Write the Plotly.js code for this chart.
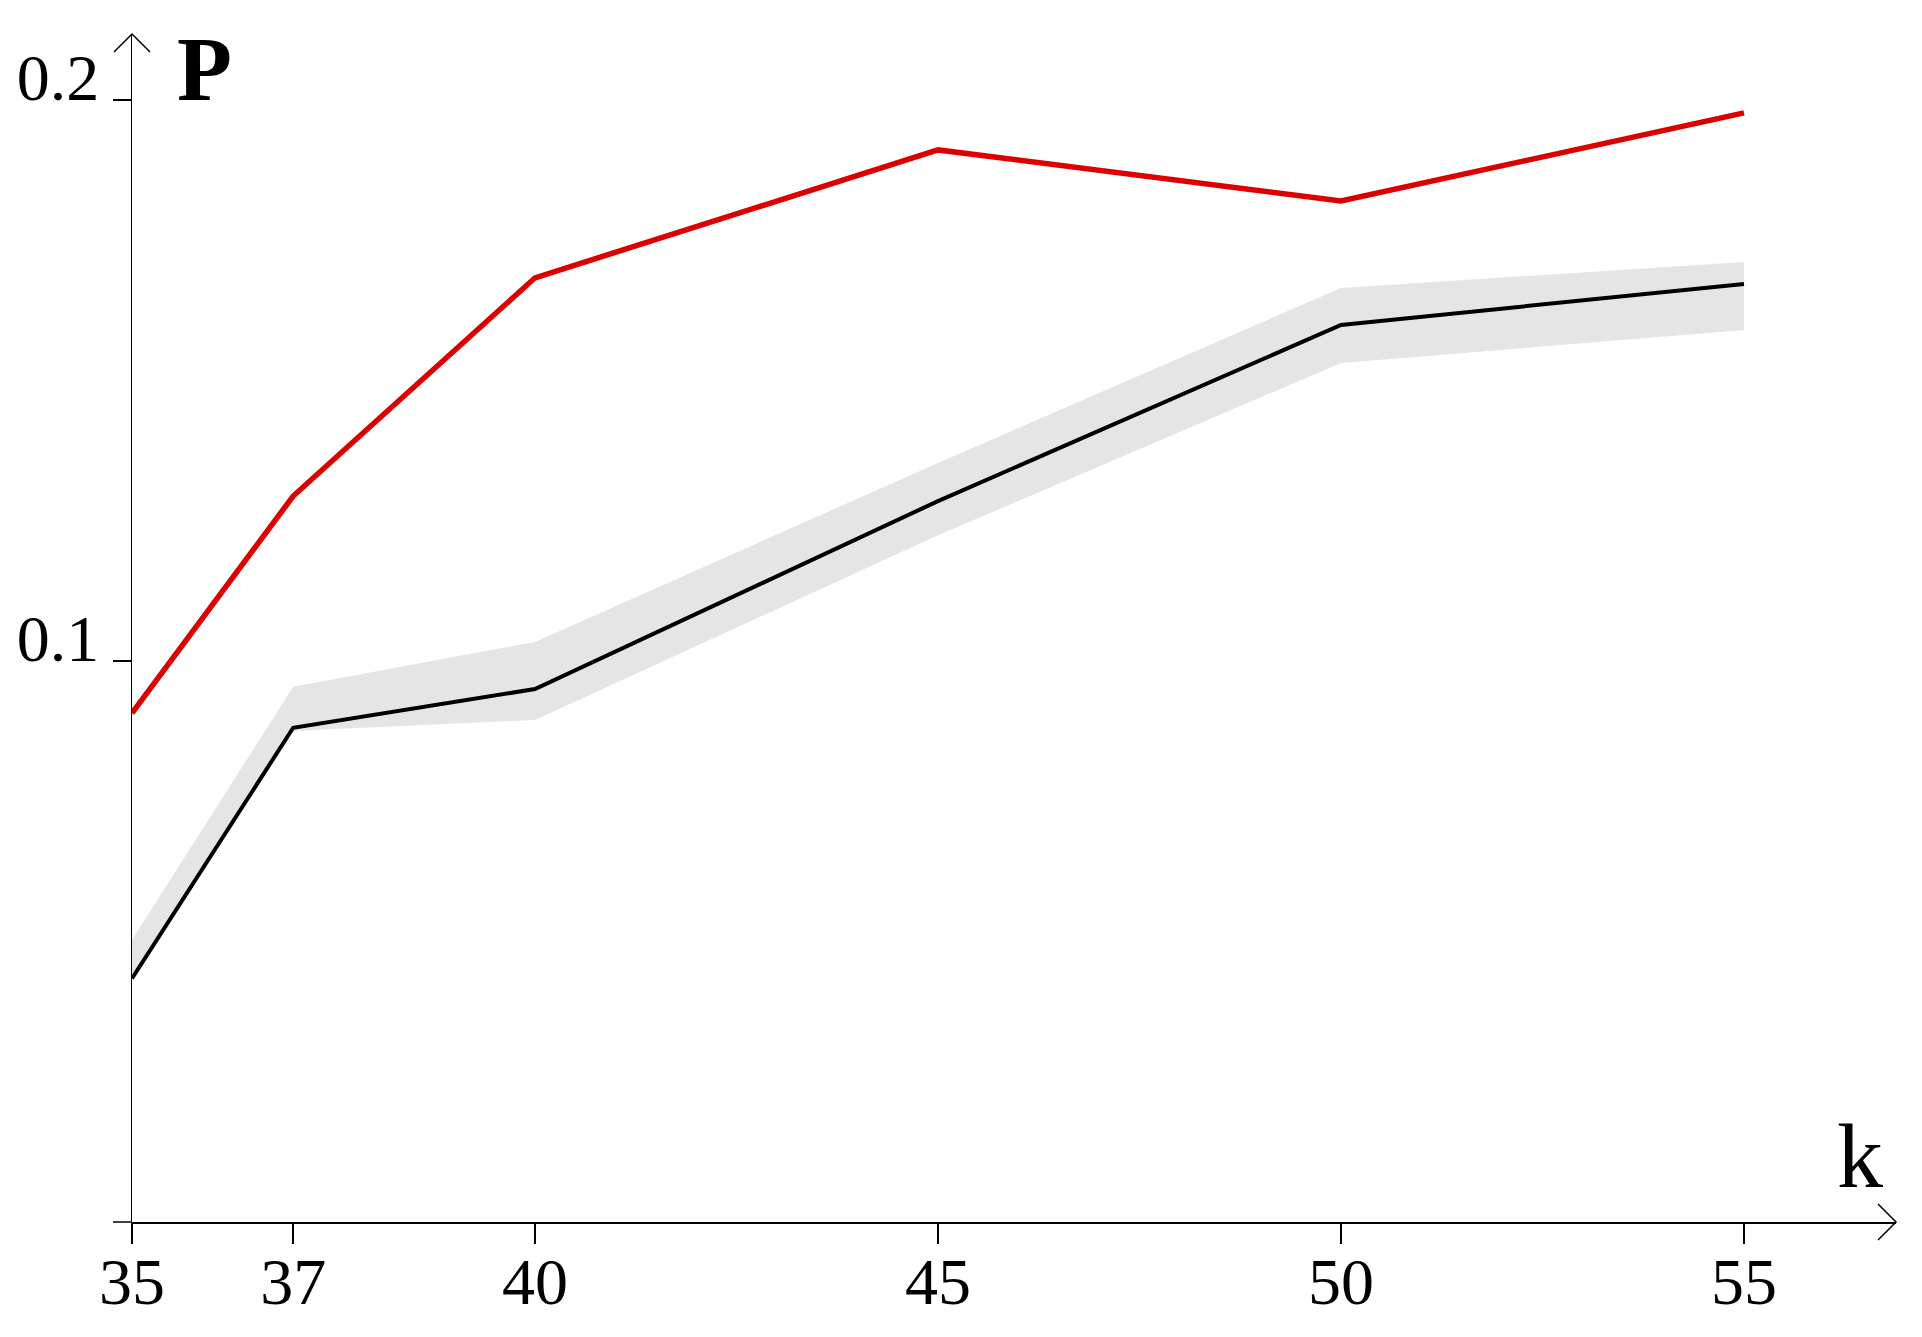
<!DOCTYPE html>
<html>
<head>
<meta charset="utf-8">
<script src="https://cdn.plot.ly/plotly-3.0.1.min.js"></script>
<style>html,body{margin:0;padding:0;background:#fff;}#chart{width:1922px;height:1337px;}</style>
</head>
<body>
<div id="chart"></div>
<script>
// Data
const kValues = [35, 37, 40, 45, 50, 55];
const redSeries = [0.0907, 0.1294, 0.1683, 0.1911, 0.1820, 0.1977];
const blackSeries = [0.0434, 0.0881, 0.0950, 0.1285, 0.1599, 0.1672];
const bandUpper = [0.0503, 0.0954, 0.1034, 0.1353, 0.1665, 0.1711];
const bandLower = [0.0434, 0.0875, 0.0895, 0.1224, 0.1531, 0.1590];
const xTickVals = [35, 37, 40, 45, 50, 55];
const xTickText = ['35', '37', '40', '45', '50', '55'];
const yTickVals = [0.1, 0.2];
const yTickText = ['0.1', '0.2'];

const serif = 'Liberation Serif, Times New Roman, serif';

const traces = [
  {x: kValues, y: bandLower, type: 'scatter', mode: 'lines', line: {width: 0, color: 'rgba(0,0,0,0)'}, hoverinfo: 'skip', showlegend: false},
  {x: kValues, y: bandUpper, type: 'scatter', mode: 'lines', fill: 'tonexty', fillcolor: '#e5e5e5', line: {width: 0, color: 'rgba(0,0,0,0)'}, hoverinfo: 'skip', showlegend: false},
  {x: kValues, y: blackSeries, type: 'scatter', mode: 'lines', line: {color: '#000000', width: 4}, showlegend: false},
  {x: kValues, y: redSeries, type: 'scatter', mode: 'lines', line: {color: '#dc0000', width: 5.5}, showlegend: false}
];

const axLine = {color: '#000', width: 1.5};
const layout = {
  width: 1922, height: 1337,
  margin: {l: 132, r: 26, t: 34, b: 115, pad: 0},
  paper_bgcolor: '#fff', plot_bgcolor: '#fff',
  showlegend: false,
  font: {family: serif, color: '#000'},
  xaxis: {
    range: [35, 56.886], showgrid: false, zeroline: false,
    showline: true, linecolor: '#000', linewidth: 1.5,
    ticks: 'outside', ticklen: 20, tickwidth: 1.5, tickcolor: '#000',
    tickmode: 'array', tickvals: xTickVals, ticktext: xTickText,
    tickfont: {family: serif, size: 66, color: '#000'},
    ticklabelstandoff: -19
  },
  yaxis: {
    range: [0, 0.21176], showgrid: false, zeroline: false,
    showline: true, linecolor: '#000', linewidth: 1.5,
    ticks: 'outside', ticklen: 18, tickwidth: 1.5, tickcolor: '#000',
    tickmode: 'array', tickvals: yTickVals, ticktext: yTickText,
    tickfont: {family: serif, size: 66, color: '#000'},
    ticklabelshift: -23, ticklabelstandoff: 0
  },
  shapes: [
    // up arrowhead on the y axis
    {type: 'path', xref: 'paper', yref: 'paper', xsizemode: 'pixel', ysizemode: 'pixel', xanchor: 0, yanchor: 1,
     path: 'M-18,-18L0,0L18,-18', line: axLine},
    // right arrowhead on the x axis
    {type: 'path', xref: 'paper', yref: 'paper', xsizemode: 'pixel', ysizemode: 'pixel', xanchor: 1, yanchor: 0,
     path: 'M-18,18L0,0L-18,-18', line: axLine},
    // x axis extension to the left of the y axis
    {type: 'line', xref: 'paper', yref: 'paper', xsizemode: 'pixel', xanchor: 0, x0: -19, x1: 0, y0: 0, y1: 0, line: axLine}
  ],
  annotations: [
    {text: '<b>P</b>', xref: 'paper', yref: 'paper', x: 0.0244, y: 0.9705, xanchor: 'left', yanchor: 'middle',
     showarrow: false, font: {family: serif, size: 90, color: '#000'}},
    {text: 'k', xref: 'paper', yref: 'paper', x: 0.9796, y: 0.0556, xanchor: 'center', yanchor: 'middle',
     showarrow: false, font: {family: serif, size: 92, color: '#000'}}
  ]
};

Plotly.newPlot('chart', traces, layout, {displayModeBar: false, staticPlot: true});
</script>
</body>
</html>
